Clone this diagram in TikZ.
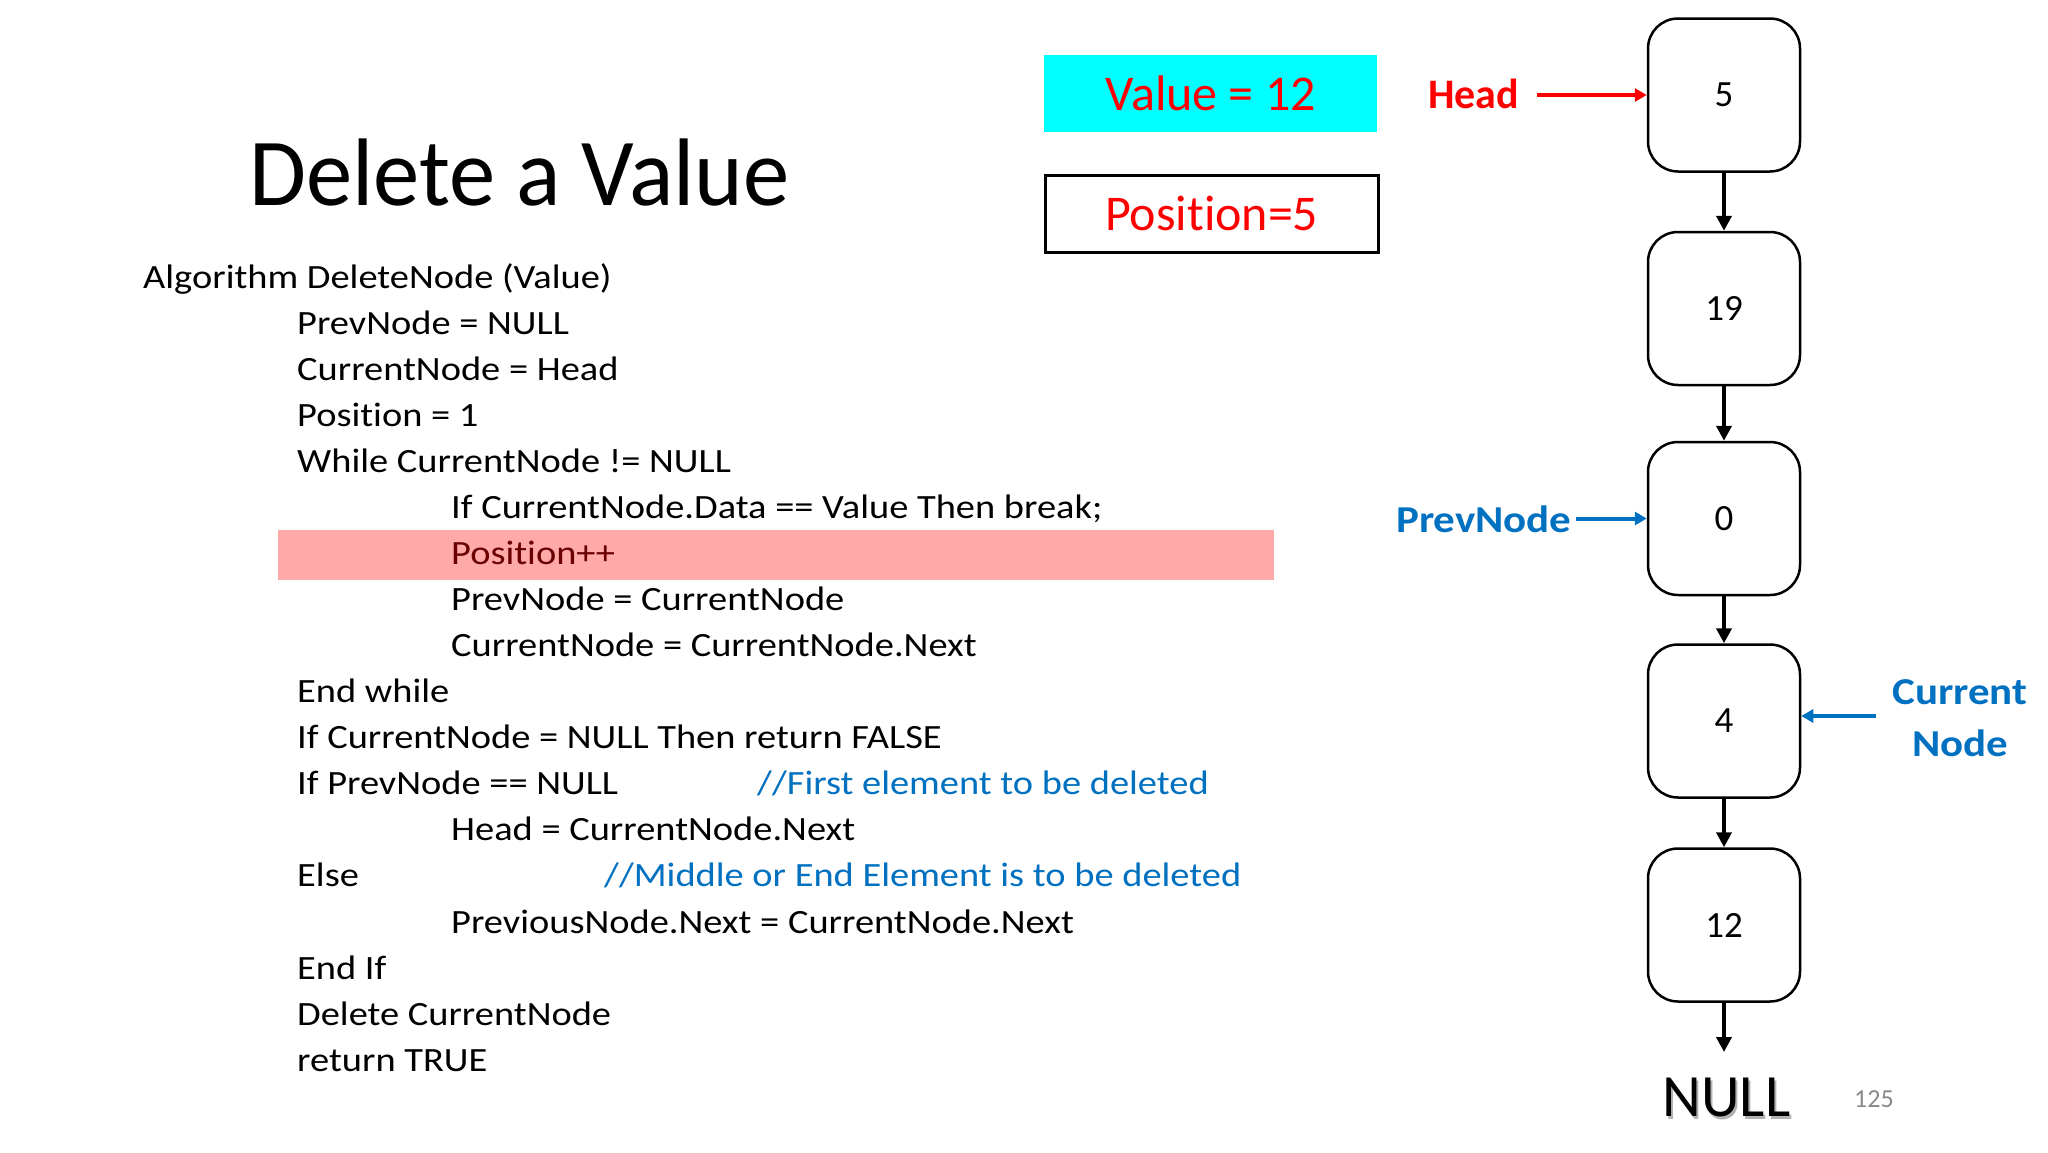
\documentclass[tikz,border=0pt]{standalone}
\usepackage{fontspec}
\setmainfont[Ligatures=NoCommon]{Carlito}
\newfontfamily\codefont[FakeStretch=1.13,Ligatures=NoCommon]{Carlito}
\newfontfamily\titlefont[FakeStretch=0.965]{Carlito}
\usetikzlibrary{arrows.meta}
\definecolor{cmtblue}{HTML}{0070C0}
\definecolor{hlpink}{HTML}{FFA9A9}
\definecolor{hltext}{HTML}{6A0000}
\definecolor{pgnum}{HTML}{898989}
\definecolor{valcyan}{HTML}{00FFFF}
\begin{document}
\begin{tikzpicture}[x=1pt,y=-1pt,
  code/.style={anchor=base west,inner sep=0pt,font=\codefont\fontsize{34}{40}\selectfont},
  cmt/.style={code,text=cmtblue},
  lnode/.style={draw,line width=2.5pt,rounded corners=30pt,minimum width=152pt,minimum height=153pt,inner sep=0pt,font=\fontsize{37}{44}\selectfont},
  link/.style={line width=4.5pt,-{Triangle[length=15pt,width=15pt]}},
  ptr/.style={line width=4pt,-{Triangle[length=12pt,width=13pt]}},
  lbl/.style={anchor=base west,inner sep=0pt,font=\codefont\bfseries\fontsize{38}{44}\selectfont,text=cmtblue}]
\useasboundingbox[fill=white] (0,0) rectangle (2048,1152);

% title
\node[anchor=base west,inner sep=0pt,font=\titlefont\fontsize{96}{110}\selectfont] (title) at (249,205) {Delete a Value};

% highlight
\fill[hlpink] (278,530) rectangle (1274,580);

% code lines
\node[code] (l0) at (143,288.3) {Algorithm DeleteNode (Value)};
\node[code] (l1) at (297,334.35) {PrevNode = NULL};
\node[code] (l2) at (297,380.4) {CurrentNode = Head};
\node[code] (l3) at (297,426.45) {Position = 1};
\node[code] (l4) at (297,472.5) {While CurrentNode != NULL};
\node[code] (l5) at (451,518.55) {If CurrentNode.Data == Value Then break;};
\node[code,text=hltext] (l6) at (451,564.6) {Position++};
\node[code] (l7) at (451,610.65) {PrevNode = CurrentNode};
\node[code] (l8) at (451,656.7) {CurrentNode = CurrentNode.Next};
\node[code] (l9) at (297,702.75) {End while};
\node[code] (l10) at (297,748.8) {If CurrentNode = NULL Then return FALSE};
\node[code] (l11) at (297,794.85) {If PrevNode == NULL};
\node[cmt] (c11) at (757,794.85) {//First element to be deleted};
\node[code] (l12) at (451,840.9) {Head = CurrentNode.Next};
\node[code] (l13) at (297,886.95) {Else};
\node[cmt] (c13) at (604,886.95) {//Middle or End Element is to be deleted};
\node[code] (l14) at (451,933) {PreviousNode.Next = CurrentNode.Next};
\node[code] (l15) at (297,979.05) {End If};
\node[code] (l16) at (297,1025.1) {Delete CurrentNode};
\node[code] (l17) at (297,1071.15) {return TRUE};

% value / position boxes
\node[fill=valcyan,minimum width=333pt,minimum height=77pt,inner sep=0pt,anchor=north west,text=red,font=\fontsize{50}{60}\selectfont] (valbox) at (1044,55) {Value = 12};
\node[draw,line width=2.5pt,minimum width=333pt,minimum height=77pt,inner sep=0pt,anchor=north west,text=red,font=\fontsize{50}{60}\selectfont] (posbox) at (1044,174) {Position=5};

% list nodes
\node[lnode] (n5) at (1724,95) {5};
\node[lnode] (n19) at (1724,308.5) {19};
\node[lnode] (n0) at (1724,518.5) {0};
\node[lnode] (n4) at (1724,721) {4};
\node[lnode] (n12) at (1724,925) {12};

\draw[link] (n5.south) -- (n19.north);
\draw[link] (n19.south) -- (n0.north);
\draw[link] (n0.south) -- (n4.north);
\draw[link] (n4.south) -- (n12.north);
\coordinate (nullend) at (1724,1052);
\draw[link] (n12.south) -- (nullend);

% NULL
\node[anchor=base,inner sep=0pt,font=\fontsize{60}{70}\selectfont,text=black!30] (nullsh) at (1728.5,1119.5) {NULL};
\node[anchor=base,inner sep=0pt,font=\fontsize{60}{70}\selectfont] (null) at (1726.5,1116.7) {NULL};

% page number
\node[anchor=base west,inner sep=0pt,font=\fontsize{26}{30}\selectfont,text=pgnum] (pg) at (1854,1107) {125};

% Head pointer
\node[anchor=base west,inner sep=0pt,font=\bfseries\fontsize{42}{48}\selectfont,text=red] (head) at (1428,108.3) {Head};
\coordinate (headtail) at (1537,95);
\draw[ptr,red] (headtail) -- (headtail -| n5.west);

% PrevNode pointer
\node[lbl] (prev) at (1396,532.7) {PrevNode};
\coordinate (prevtail) at (1576,518.5);
\draw[ptr,cmtblue] (prevtail) -- (prevtail -| n0.west);

% CurrentNode pointer
\node[anchor=center,inner sep=0pt,align=center,font=\codefont\bfseries\fontsize{38}{52}\selectfont,text=cmtblue] (cur) at (1960,718) {Current\\Node};
\coordinate (curtail) at (1876,716);
\draw[ptr,cmtblue] (curtail) -- (curtail -| n4.east);
\end{tikzpicture}
\end{document}
